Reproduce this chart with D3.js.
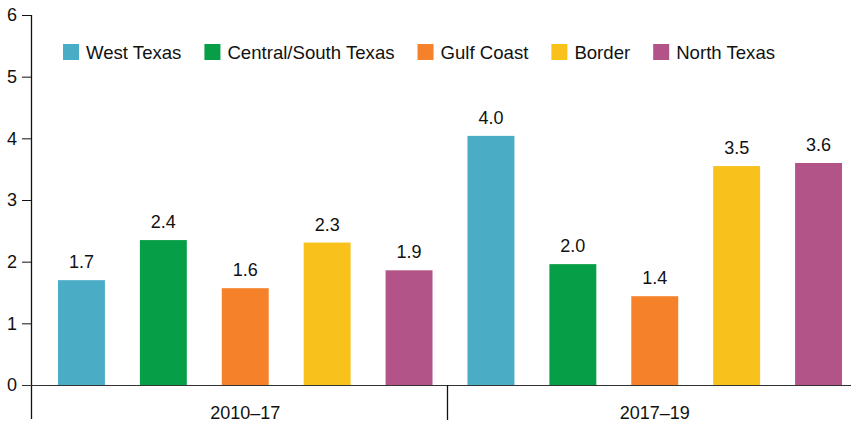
<!DOCTYPE html>
<html>
  <head>
    <meta charset="utf-8">
    <title>Regions bar chart</title>
    <script src="https://d3js.org/d3.v7.min.js"></script>
    <style>
      body { margin: 0; background: #fff; }
      text { font-family: "Liberation Sans", Arial, Helvetica, sans-serif; fill: #111; }
    </style>
  </head>
  <body>
    <script type="text/javascript">
      var periods = ['2010\u201317', '2017\u201319'];
      var regions = ['West Texas', 'Central/South Texas', 'Gulf Coast', 'Border', 'North Texas'];
      var colors = ['#4bacc6', '#079e48', '#f5822b', '#f8c11c', '#b25487'];
      // bar heights, one array per period (in region order)
      var values2010 = [1.70, 2.35, 1.57, 2.31, 1.86];
      var values2017 = [4.04, 1.96, 1.44, 3.55, 3.60];
      // printed labels above bars
      var labels2010 = ['1.7', '2.4', '1.6', '2.3', '1.9'];
      var labels2017 = ['4.0', '2.0', '1.4', '3.5', '3.6'];
      var yTicks = [0, 1, 2, 3, 4, 5, 6];

      var width = 851, height = 422;
      var axisX = 31, baseY = 385, topY = 15;

      var data = [];
      periods.forEach(function (p, pi) {
        var vals = pi === 0 ? values2010 : values2017;
        var labs = pi === 0 ? labels2010 : labels2017;
        regions.forEach(function (r, ri) {
          data.push({ period: p, region: r, value: vals[ri], label: labs[ri], color: colors[ri] });
        });
      });

      var svg = d3.select('body')
                  .append('svg')
                  .attr('width', width)
                  .attr('height', height);

      var y = d3.scaleLinear()
                .domain([0, 6])
                .range([baseY, topY]);

      var x0 = d3.scaleBand()
                 .domain(periods)
                 .range([40.5, 859.5]);

      var x1 = d3.scaleBand()
                 .domain(regions)
                 .range([0, x0.bandwidth()])
                 .paddingInner(0.427)
                 .paddingOuter(0.2135);

      // y axis
      var yAxis = d3.axisLeft(y)
                    .tickValues(yTicks)
                    .tickFormat(d3.format('d'))
                    .tickSize(9)
                    .tickPadding(5);

      var gy = svg.append('g')
                  .attr('transform', 'translate(' + axisX + ',0)')
                  .call(yAxis);
      gy.select('.domain').remove();
      gy.selectAll('.tick line').attr('stroke', '#111');
      gy.selectAll('.tick text')
        .style('font-size', '18px')
        .attr('fill', '#111');

      svg.append('line')
         .attr('x1', axisX + 0.5).attr('x2', axisX + 0.5)
         .attr('y1', topY).attr('y2', 419)
         .attr('stroke', '#111')
         .attr('stroke-width', 1.3);

      // bars
      svg.selectAll('rect.bar')
         .data(data)
         .enter()
           .append('rect')
           .attr('class', 'bar')
           .attr('x', function (d) { return x0(d.period) + x1(d.region); })
           .attr('width', x1.bandwidth())
           .attr('y', function (d) { return y(d.value); })
           .attr('height', function (d) { return y(0) - y(d.value); })
           .attr('fill', function (d) { return d.color; });

      svg.selectAll('text.val')
         .data(data)
         .enter()
           .append('text')
           .attr('class', 'val')
           .attr('x', function (d) { return x0(d.period) + x1(d.region) + x1.bandwidth() / 2; })
           .attr('y', function (d) { return y(d.value) - 12; })
           .attr('text-anchor', 'middle')
           .style('font-size', '18px')
           .text(function (d) { return d.label; });

      // baseline
      svg.append('line')
         .attr('x1', axisX - 9).attr('x2', width)
         .attr('y1', y(0) + 0.5).attr('y2', y(0) + 0.5)
         .attr('stroke', '#333')
         .attr('stroke-width', 1.2);

      // period separator + labels
      svg.append('line')
         .attr('x1', x0(periods[1]) - 2.5).attr('x2', x0(periods[1]) - 2.5)
         .attr('y1', y(0)).attr('y2', 420)
         .attr('stroke', '#111')
         .attr('stroke-width', 1.3);

      svg.selectAll('text.period')
         .data(periods)
         .enter()
           .append('text')
           .attr('class', 'period')
           .attr('x', function (d) { return x0(d) + x0.bandwidth() / 2; })
           .attr('y', 419)
           .attr('text-anchor', 'middle')
           .style('font-size', '18px')
           .text(function (d) { return d; });

      // legend
      var legend = svg.append('g').attr('transform', 'translate(63,44)');
      var lx = 0;
      regions.forEach(function (r, i) {
        var item = legend.append('g').attr('transform', 'translate(' + lx + ',0)');
        item.append('rect')
            .attr('width', 16).attr('height', 16)
            .attr('fill', colors[i]);
        var t = item.append('text')
            .attr('x', 23).attr('y', 15)
            .style('font-size', '18.6px')
            .text(r);
        lx += 23 + t.node().getComputedTextLength() + 23;
      });
    </script>
  </body>
</html>
